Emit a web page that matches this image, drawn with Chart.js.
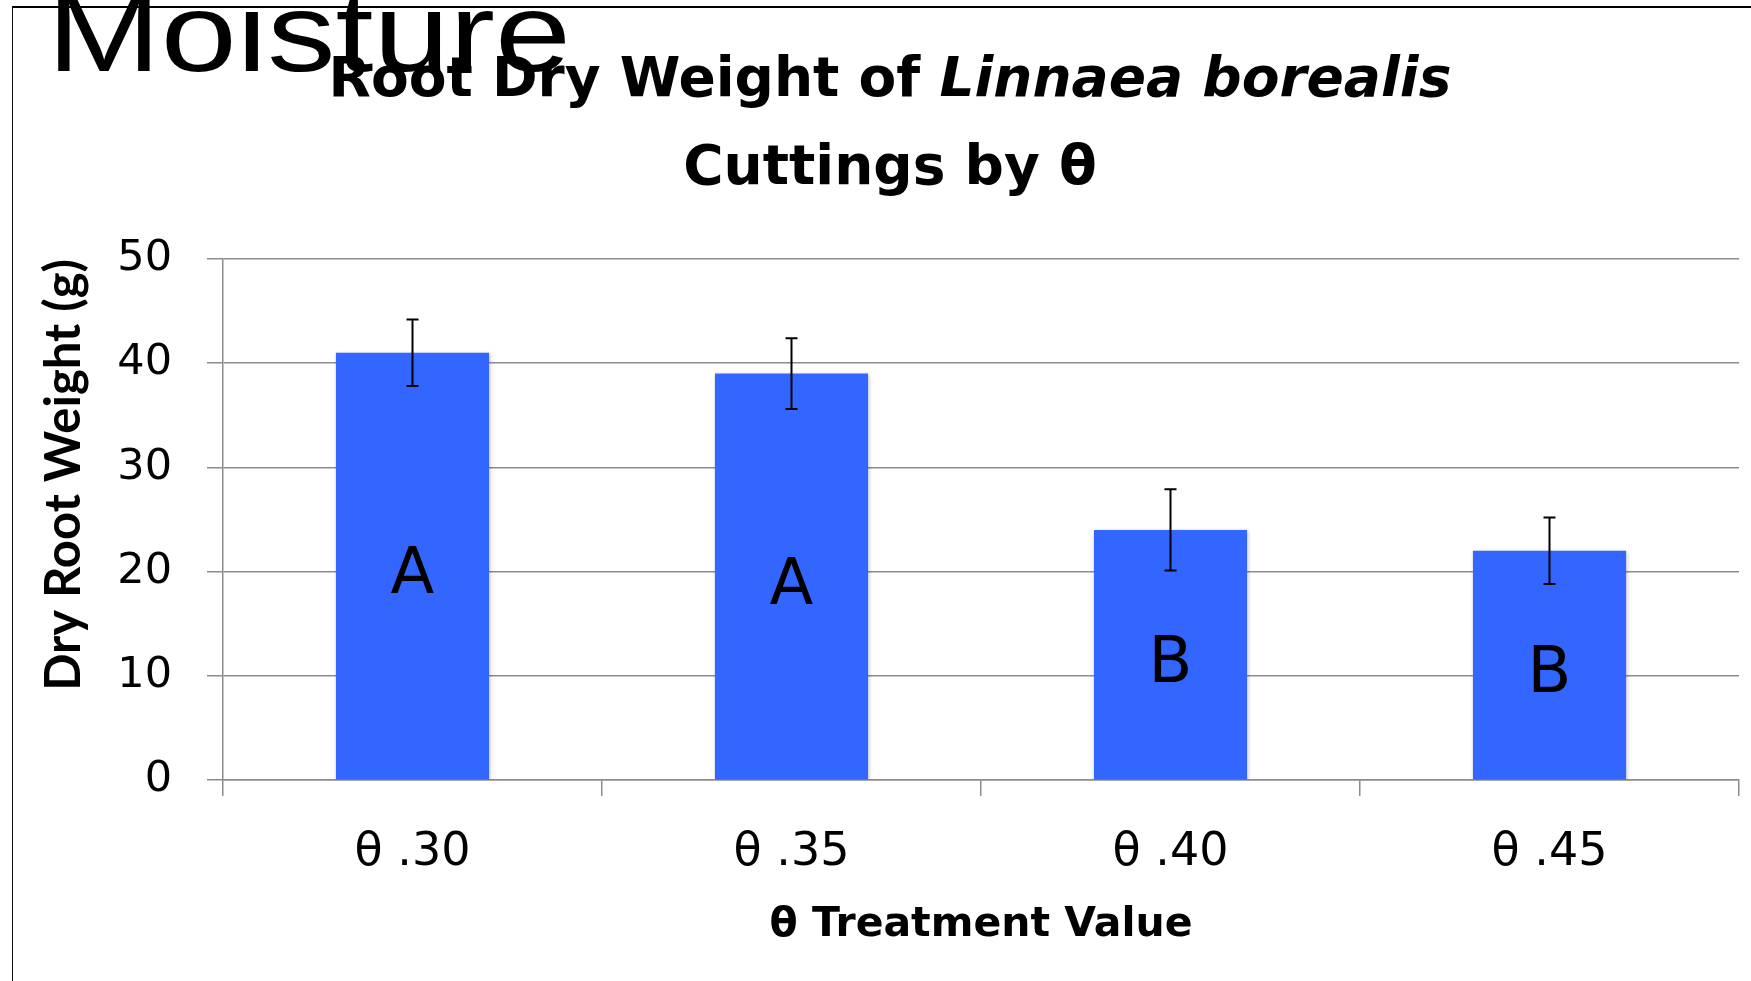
<!DOCTYPE html>
<html>
<head>
<meta charset="utf-8">
<title>Root Dry Weight of Linnaea borealis</title>
<script src="https://cdn.jsdelivr.net/npm/chart.js@4.4.1/dist/chart.umd.min.js"></script>
<style>
  html, body { margin: 0; padding: 0; background: #fff; overflow: hidden; }
  #wrap { position: relative; width: 1751px; height: 981px; overflow: hidden; }
  #frame { position: absolute; left: 12px; top: 6px; width: 1800px; height: 1000px;
    border-top: 2px solid #000; border-left: 1.5px solid #111; }
  #slideTitle { position: absolute; left: 47px; top: -23px; font-family: "Liberation Sans", Arial, sans-serif;
    font-size: 112px; line-height: 112px; transform: scaleX(1.22); transform-origin: left top;
    white-space: nowrap; color: #000; }
  #chartTitle { position: absolute; left: 0; top: 33px; width: 1780px; text-align: center;
    font-family: "DejaVu Sans", sans-serif; font-weight: bold; font-size: 55px; line-height: 88px; color: #000; }
  canvas { position: absolute; left: 0; top: 0; }
</style>
</head>
<body>
<div id="wrap">
  <div id="frame"></div>
  <canvas id="myChart" width="1751" height="981"></canvas>
  <div id="slideTitle">Moisture</div>
  <div id="chartTitle">Root Dry Weight of <i>Linnaea borealis</i><br>Cuttings by θ</div>
</div>
<script>
const categories = ['θ .30', 'θ .35', 'θ .40', 'θ .45'];
const rootWeight = [41, 39, 24, 22];
const stdError = [3.2, 3.4, 3.9, 3.2];
const groupLetters = ['A', 'A', 'B', 'B'];
const yTicks = [0, 10, 20, 30, 40, 50];

const gridColor = '#8c8c8c';

// soft shadow under the bars, like the office chart
const barShadow = {
  id: 'barShadow',
  beforeDatasetDraw(chart) {
    const ctx = chart.ctx;
    ctx.save();
    ctx.shadowColor = 'rgba(0,0,0,0.25)';
    ctx.shadowBlur = 4;
    ctx.shadowOffsetX = 1;
    ctx.shadowOffsetY = 1;
  },
  afterDatasetDraw(chart) {
    chart.ctx.restore();
  }
};

// error bars and the group letters inside each bar
const errorBars = {
  id: 'errorBars',
  afterDatasetsDraw(chart) {
    const ctx = chart.ctx;
    const y = chart.scales.y;
    const bars = chart.getDatasetMeta(0).data;
    ctx.save();
    ctx.strokeStyle = '#000';
    ctx.lineWidth = 2;
    bars.forEach((bar, i) => {
      const top = y.getPixelForValue(rootWeight[i] + stdError[i]);
      const bottom = y.getPixelForValue(rootWeight[i] - stdError[i]);
      ctx.beginPath();
      ctx.moveTo(bar.x, top);
      ctx.lineTo(bar.x, bottom);
      ctx.moveTo(bar.x - 6, top);
      ctx.lineTo(bar.x + 6, top);
      ctx.moveTo(bar.x - 6, bottom);
      ctx.lineTo(bar.x + 6, bottom);
      ctx.stroke();

      ctx.fillStyle = '#000';
      ctx.font = '64px "DejaVu Sans"';
      ctx.textAlign = 'center';
      ctx.textBaseline = 'alphabetic';
      ctx.fillText(groupLetters[i], bar.x, y.getPixelForValue(rootWeight[i] / 2) + 27);
    });
    ctx.restore();
  }
};

new Chart(document.getElementById('myChart'), {
  type: 'bar',
  data: {
    labels: categories,
    datasets: [{
      data: rootWeight,
      backgroundColor: '#3366ff',
      borderWidth: 0,
      categoryPercentage: 1,
      barPercentage: 0.404
    }]
  },
  options: {
    responsive: false,
    animation: false,
    layout: { padding: { left: 20, right: 12, top: 259, bottom: 31 } },
    plugins: {
      legend: { display: false },
      tooltip: { enabled: false }
    },
    scales: {
      x: {
        grid: { offset: true, drawOnChartArea: false, drawTicks: true, tickLength: 16, color: gridColor, lineWidth: 1.5 },
        border: { display: true, color: gridColor, width: 1.5 },
        ticks: { font: { family: 'DejaVu Sans', size: 46 }, color: '#000', padding: 29 },
        title: {
          display: true,
          text: 'θ Treatment Value',
          color: '#000',
          font: { family: 'DejaVu Sans', size: 41, weight: 'bold' },
          padding: { top: 0, bottom: 0 }
        },
        afterFit: (s) => { s.height = 170; }
      },
      y: {
        min: yTicks[0],
        max: yTicks[yTicks.length - 1],
        grid: { color: gridColor, lineWidth: 1.5, tickLength: 16 },
        border: { display: true, color: gridColor, width: 1.5 },
        ticks: { stepSize: yTicks[1] - yTicks[0], font: { family: 'DejaVu Sans', size: 43 }, color: '#000', padding: 35 },
        title: {
          display: true,
          text: 'Dry Root Weight (g)',
          align: 'end',
          color: '#000',
          font: { family: 'Lato', size: 49, weight: 'bold' },
          padding: { top: 15, bottom: 0 }
        },
        afterFit: (s) => { s.width = 203; }
      }
    }
  },
  plugins: [barShadow, errorBars]
});
</script>
</body>
</html>
